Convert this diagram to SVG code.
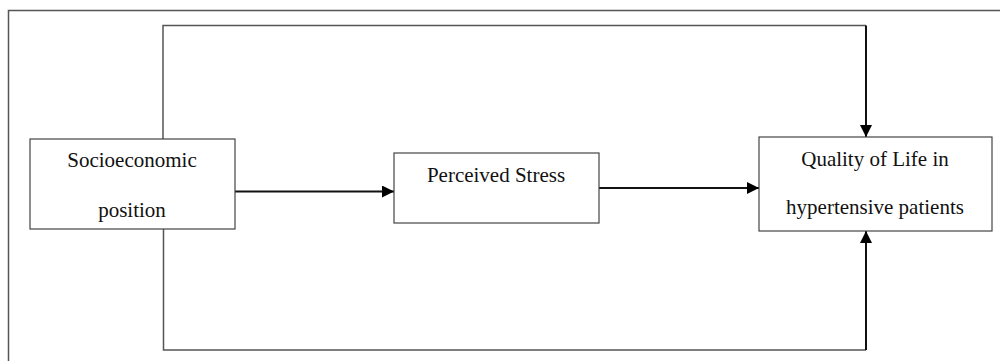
<svg xmlns="http://www.w3.org/2000/svg" width="1000" height="361" viewBox="0 0 1000 361">
<style>
.box{fill:#fff;stroke:#444;stroke-width:1.2}
.t{font-family:"Liberation Serif","Times New Roman",serif;font-size:21px;fill:#111;text-anchor:middle}
.frame{fill:none;stroke:#555;stroke-width:1.5}
.c{fill:none;stroke:#111;stroke-width:2}
.cg{fill:none;stroke:#555;stroke-width:1.5}
</style>
<defs>
<marker id="ah" viewBox="0 0 12 12" refX="12" refY="6" markerWidth="12" markerHeight="12" markerUnits="userSpaceOnUse" orient="auto">
<path d="M0,0 L12,6 L0,12 Z" fill="#000"/>
</marker>
</defs>
<rect width="1000" height="361" fill="#fff"/>
<path class="frame" d="M8.5,361 V10.5 H1000"/>
<g id="connectors">
<path class="cg" d="M163,139 V25.5 H866"/>
<path class="c" d="M866,25.5 V137" marker-end="url(#ah)"/>
<path class="cg" d="M163.5,229 V350 H866"/>
<path class="c" d="M866,350 V231" marker-end="url(#ah)"/>
<path class="c" d="M235,191.5 H394" marker-end="url(#ah)"/>
<path class="c" d="M599,188 H759" marker-end="url(#ah)"/>
</g>
<g id="socio">
<rect class="box" x="30" y="139" width="205" height="90"/>
<text class="t" x="132" y="167">Socioeconomic</text>
<text class="t" x="132" y="217">position</text>
</g>
<g id="stress">
<rect class="box" x="394" y="153" width="205" height="70"/>
<text class="t" x="496" y="182">Perceived Stress</text>
</g>
<g id="qol">
<rect class="box" x="759" y="137" width="233" height="94"/>
<text class="t" x="875" y="166">Quality of Life in</text>
<text class="t" x="875" y="214">hypertensive patients</text>
</g>
</svg>
